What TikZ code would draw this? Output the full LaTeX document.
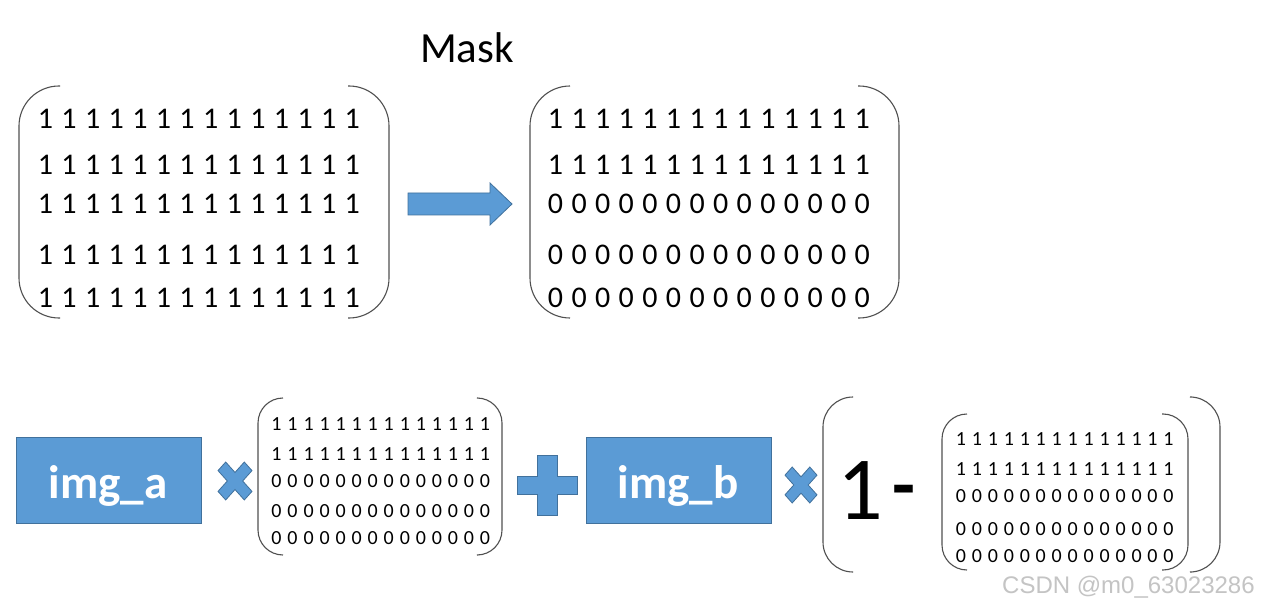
\documentclass[tikz,border=0pt]{standalone}
\usepackage{fontspec}
\setmainfont{Carlito}
\newfontfamily\wmfont{Liberation Sans}
\definecolor{blueF}{HTML}{5B9BD5}
\definecolor{blueD}{HTML}{41719C}
\definecolor{brk}{HTML}{505050}
\definecolor{wmgray}{HTML}{C4C4C4}
\begin{document}
\begin{tikzpicture}[x=1pt,y=-1pt,
  brkt/.style={draw=brk,line width=1.1pt},
  shp/.style={fill=blueF,draw=blueD,line width=0.8pt},
  bigdig/.style={anchor=base,inner sep=0pt,font=\fontsize{30}{36}\selectfont},
  smalldig/.style={anchor=base,inner sep=0pt,font=\fontsize{20}{24}\selectfont},
  imgbox/.style={fill=blueF,draw=blueD,line width=0.8pt,minimum width=185pt,minimum height=86pt,inner sep=0pt},
  imglabel/.style={anchor=base,inner sep=0pt,text=white,font=\bfseries\fontsize{47}{52}\selectfont}
]
\fill[white] (0,0) rectangle (1262,615);
\useasboundingbox (0,0) rectangle (1262,615);

% title
\node[anchor=base,inner sep=0pt,font=\fontsize{43}{50}\selectfont] (mask) at (467,63) {Mask};

% top-left matrix
\foreach \r/\yb in {1/129,2/175,3/214,4/264,5/307}{
  \foreach \c in {0,...,13}{
    \node[bigdig] (tl-\r-\c) at ({45.5+23.6*\c},\yb) {1};
  }
}
\draw[brkt,rounded corners=40pt] (60,86) -- (19,86) -- (19,318) -- (60,318);
\draw[brkt,rounded corners=40pt] (348,86) -- (389,86) -- (389,318) -- (348,318);

% arrow
\draw[shp] (408,193) -- (490,193) -- (490,183) -- (512,204) -- (490,225) -- (490,215) -- (408,215) -- cycle;

% top-right matrix
\foreach \r/\yb/\d in {1/129/1,2/175/1,3/214/0,4/264/0,5/307/0}{
  \foreach \c in {0,...,13}{
    \node[bigdig] (tr-\r-\c) at ({555.5+23.6*\c},\yb) {\d};
  }
}
\draw[brkt,rounded corners=40pt] (570,86) -- (530,86) -- (530,318) -- (570,318);
\draw[brkt,rounded corners=40pt] (858,86) -- (899,86) -- (899,318) -- (858,318);

% bottom row
\node[imgbox] (imga) at (108.5,480) {};
\node[imglabel] (imgatext) at (108,498) {img\_a};

\begin{scope}[shift={(235,481)},xscale=15.5,yscale=17.3]
\draw[shp] (0,0.495) -- (0.601,1.096) -- (1.096,0.601) -- (0.495,0) -- (1.096,-0.601) -- (0.601,-1.096) -- (0,-0.495) -- (-0.601,-1.096) -- (-1.096,-0.601) -- (-0.495,0) -- (-1.096,0.601) -- (-0.601,1.096) -- cycle;
\end{scope}

\foreach \r/\yb/\d in {1/430/1,2/460/1,3/487/0,4/517/0,5/544/0}{
  \foreach \c in {0,...,13}{
    \node[smalldig] (bm-\r-\c) at ({276.5+16.04*\c},\yb) {\d};
  }
}
\draw[brkt,rounded corners=25pt] (283,398) -- (258,398) -- (258,555) -- (283,555);
\draw[brkt,rounded corners=25pt] (478,398) -- (502,398) -- (502,555) -- (478,555);

\draw[shp] (537,455) -- (557,455) -- (557,476) -- (577,476) -- (577,494) -- (557,494) -- (557,515) -- (537,515) -- (537,494) -- (517,494) -- (517,476) -- (537,476) -- cycle;

\node[imgbox] (imgb) at (678.5,480) {};
\node[imglabel] (imgbtext) at (678,498) {img\_b};

\begin{scope}[shift={(801,485)},xscale=14.6,yscale=16.4]
\draw[shp] (0,0.495) -- (0.601,1.096) -- (1.096,0.601) -- (0.495,0) -- (1.096,-0.601) -- (0.601,-1.096) -- (0,-0.495) -- (-0.601,-1.096) -- (-1.096,-0.601) -- (-0.495,0) -- (-1.096,0.601) -- (-0.601,1.096) -- cycle;
\end{scope}

\draw[brkt,rounded corners=30pt] (852,397) -- (823,397) -- (823,572) -- (852,572);
\draw[brkt,rounded corners=30pt] (1192,397) -- (1220,397) -- (1220,572) -- (1192,572);

\node[anchor=base,inner sep=0pt,font=\fontsize{90}{100}\selectfont] (one) at (860,519) {1};
\node[anchor=base,inner sep=0pt,font=\bfseries\fontsize{75}{80}\selectfont] (minus) at (904,510) {-};

\foreach \r/\yb/\d in {1/445/1,2/475/1,3/502/0,4/535/0,5/562/0}{
  \foreach \c in {0,...,13}{
    \node[smalldig] (br-\r-\c) at ({961+15.96*\c},\yb) {\d};
  }
}
\draw[brkt,rounded corners=25pt] (967,414) -- (942,414) -- (942,570) -- (967,570);
\draw[brkt,rounded corners=25pt] (1162,414) -- (1188,414) -- (1188,570) -- (1162,570);

% watermark
\node[anchor=base west,inner sep=0pt,text=wmgray,font=\wmfont\fontsize{24}{28}\selectfont] (wm) at (1002,593) {CSDN @m0\_63023286};
\end{tikzpicture}
\end{document}
